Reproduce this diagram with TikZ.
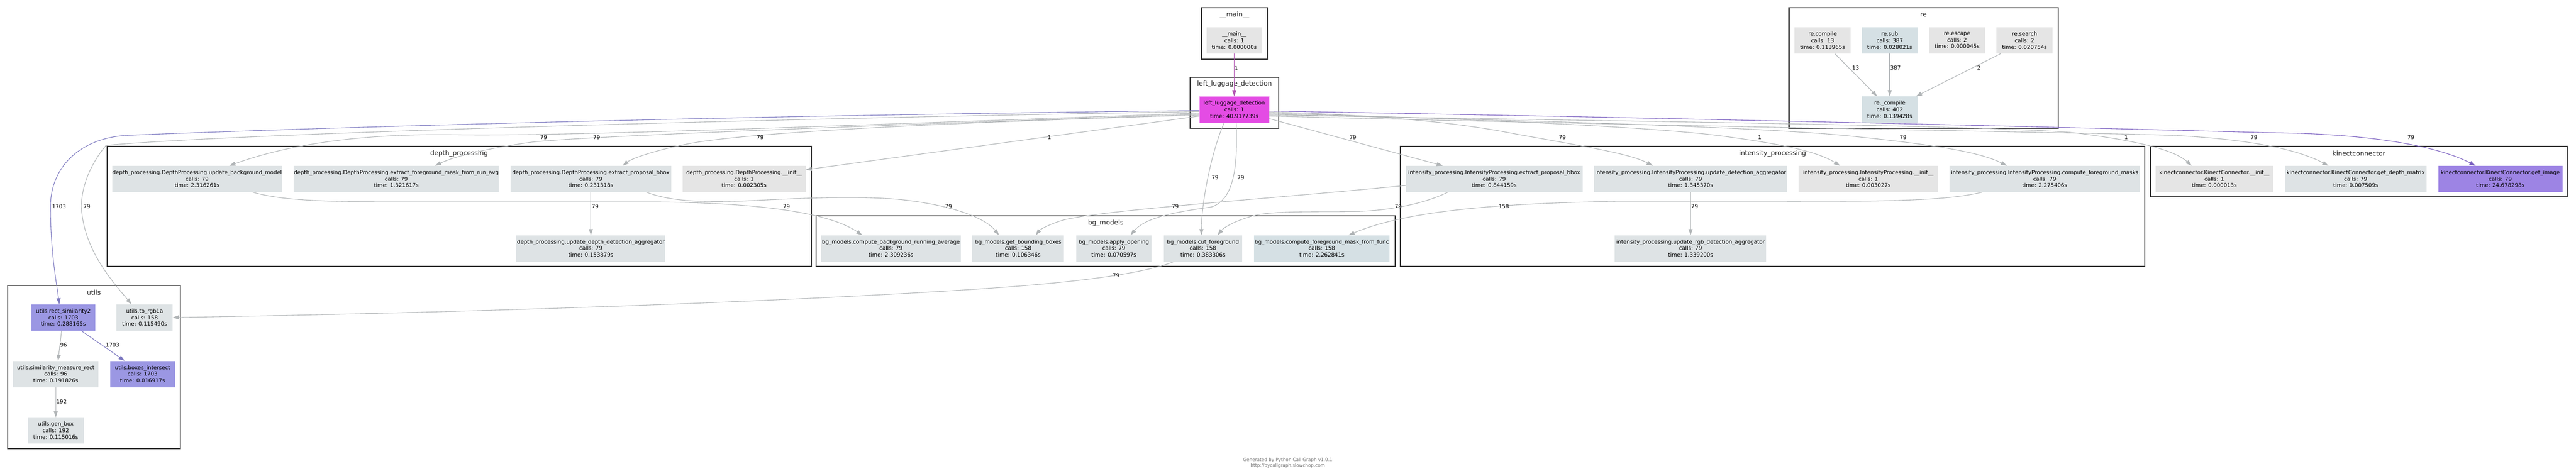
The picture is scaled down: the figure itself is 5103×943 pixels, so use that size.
\documentclass[tikz,border=0pt]{standalone}
\usepackage{fontspec}
\setmainfont{DejaVu Sans}
\usetikzlibrary{arrows.meta}
\definecolor{edgegray}{RGB}{176,180,182}
\definecolor{edgepurple}{RGB}{124,120,192}
\definecolor{edgeviolet}{RGB}{122,95,192}
\definecolor{edgemag}{RGB}{176,80,176}
\definecolor{fgrey}{RGB}{229,229,229}
\definecolor{fblue}{RGB}{222,227,229}
\definecolor{fbluer}{RGB}{213,224,228}
\definecolor{fpurple}{RGB}{155,151,227}
\definecolor{fviolet}{RGB}{157,132,228}
\definecolor{fmag}{RGB}{228,76,228}
\definecolor{clborder}{RGB}{51,51,51}
\definecolor{footgray}{RGB}{120,120,120}
\tikzset{
  fn/.style={rectangle, inner sep=0pt, minimum height=52pt, align=center,
    font=\fontsize{10.7}{13}\selectfont},
  cl/.style={draw=clborder, line width=2.2pt},
  cllab/.style={font=\fontsize{13}{15}\selectfont, text=black!85, inner sep=0pt},
  e/.style={draw=edgegray, line width=1.1pt, -{Triangle[length=12pt,width=8pt]}},
  ep/.style={e, draw=edgepurple},
  ev/.style={e, draw=edgeviolet},
  em/.style={e, draw=edgemag},
  lab/.style={font=\fontsize{10.7}{13}\selectfont, inner sep=0pt},
  foot/.style={font=\fontsize{9}{12}\selectfont, text=footgray, align=center, inner sep=0pt}
}
\begin{document}
\begin{tikzpicture}[x=1pt,y=-1pt]
\fill[white] (0,0) rectangle (5103,943);
\useasboundingbox (0,0) rectangle (5103,943);
% clusters
\draw[cl] (2380,15) rectangle (2511,117);
\node[cllab] (cmain) at (2445.5,30) {\_\_main\_\_};
\draw[cl] (2358,153) rectangle (2533,254);
\node[cllab] (clld) at (2445.5,167) {left\_luggage\_detection};
\draw[cl] (3544,15) rectangle (4077,254);
\node[cllab] (cre) at (3810.5,30) {re};
\draw[cl] (212,290) rectangle (1607,528);
\node[cllab] (cdepth) at (909.5,304) {depth\_processing};
\draw[cl] (1617,428) rectangle (2764,528);
\node[cllab] (cbg) at (2190.5,442) {bg\_models};
\draw[cl] (2774,290) rectangle (4249,528);
\node[cllab] (cint) at (3511.5,304) {intensity\_processing};
\draw[cl] (4260,290) rectangle (5086,390);
\node[cllab] (ckin) at (4673,304) {kinectconnector};
\draw[cl] (15,565) rectangle (357,889);
\node[cllab] (cutils) at (186,579) {utils};
% nodes
\node[fn, fill=fgrey, minimum width=110pt] (main) at (2445,80) {\_\_main\_\_\\calls: 1\\time: 0.000000s};
\node[fn, fill=fmag, draw=fmag!60!white, minimum width=138pt] (lld) at (2445,217) {left\_luggage\_detection\\calls: 1\\time: 40.917739s};
\node[fn, fill=fgrey, minimum width=111pt] (rc) at (3610.5,80) {re.compile\\calls: 13\\time: 0.113965s};
\node[fn, fill=fbluer, minimum width=111pt] (rs) at (3743.5,80) {re.sub\\calls: 387\\time: 0.028021s};
\node[fn, fill=fgrey, minimum width=110pt] (resc) at (3877,80) {re.escape\\calls: 2\\time: 0.000045s};
\node[fn, fill=fgrey, minimum width=111pt] (rsearch) at (4010.5,80) {re.search\\calls: 2\\time: 0.020754s};
\node[fn, fill=fbluer, minimum width=111pt] (rcomp) at (3743.5,217) {re.\_compile\\calls: 402\\time: 0.139428s};
% depth
\node[fn, fill=fblue, minimum width=337pt] (ubg) at (390.5,354.5) {depth\_processing.DepthProcessing.update\_background\_model\\calls: 79\\time: 2.316261s};
\node[fn, fill=fblue, minimum width=406pt] (efg) at (785,354.5) {depth\_processing.DepthProcessing.extract\_foreground\_mask\_from\_run\_avg\\calls: 79\\time: 1.321617s};
\node[fn, fill=fblue, minimum width=319pt] (dep) at (1170.5,354.5) {depth\_processing.DepthProcessing.extract\_proposal\_bbox\\calls: 79\\time: 0.231318s};
\node[fn, fill=fgrey, minimum width=244pt] (dinit) at (1474,354.5) {depth\_processing.DepthProcessing.\_\_init\_\_\\calls: 1\\time: 0.002305s};
\node[fn, fill=fblue, minimum width=295pt] (dagg) at (1170.5,492) {depth\_processing.update\_depth\_detection\_aggregator\\calls: 79\\time: 0.153879s};
% bg_models
\node[fn, fill=fblue, minimum width=276pt] (cbr) at (1765,492) {bg\_models.compute\_background\_running\_average\\calls: 79\\time: 2.309236s};
\node[fn, fill=fblue, minimum width=182pt] (gbb) at (2017,492) {bg\_models.get\_bounding\_boxes\\calls: 158\\time: 0.106346s};
\node[fn, fill=fblue, minimum width=149pt] (apo) at (2206.5,492) {bg\_models.apply\_opening\\calls: 79\\time: 0.070597s};
\node[fn, fill=fblue, minimum width=156pt] (cut) at (2383,492) {bg\_models.cut\_foreground\\calls: 158\\time: 0.383306s};
\node[fn, fill=fbluer, minimum width=269pt] (cff) at (2618.5,492) {bg\_models.compute\_foreground\_mask\_from\_func\\calls: 158\\time: 2.262841s};
% intensity
\node[fn, fill=fblue, minimum width=350pt] (iep) at (2960,354.5) {intensity\_processing.IntensityProcessing.extract\_proposal\_bbox\\calls: 79\\time: 0.844159s};
\node[fn, fill=fblue, minimum width=382pt] (iud) at (3349,354.5) {intensity\_processing.IntensityProcessing.update\_detection\_aggregator\\calls: 79\\time: 1.345370s};
\node[fn, fill=fgrey, minimum width=276pt] (iinit) at (3701,354.5) {intensity\_processing.IntensityProcessing.\_\_init\_\_\\calls: 1\\time: 0.003027s};
\node[fn, fill=fblue, minimum width=377pt] (icf) at (4050.5,354.5) {intensity\_processing.IntensityProcessing.compute\_foreground\_masks\\calls: 79\\time: 2.275406s};
\node[fn, fill=fblue, minimum width=300pt] (irgb) at (3349,492) {intensity\_processing.update\_rgb\_detection\_aggregator\\calls: 79\\time: 1.339200s};
% kinect
\node[fn, fill=fgrey, minimum width=233pt] (kinit) at (4386.5,354.5) {kinectconnector.KinectConnector.\_\_init\_\_\\calls: 1\\time: 0.000013s};
\node[fn, fill=fblue, minimum width=281pt] (kdm) at (4666.5,354.5) {kinectconnector.KinectConnector.get\_depth\_matrix\\calls: 79\\time: 0.007509s};
\node[fn, fill=fviolet, minimum width=246pt] (kimg) at (4953,354.5) {kinectconnector.KinectConnector.get\_image\\calls: 79\\time: 24.678298s};
% utils
\node[fn, fill=fpurple, minimum width=127pt] (rs2) at (125.5,629) {utils.rect\_similarity2\\calls: 1703\\time: 0.288165s};
\node[fn, fill=fblue, minimum width=111pt] (rgb) at (286.5,629) {utils.to\_rgb1a\\calls: 158\\time: 0.115490s};
\node[fn, fill=fblue, minimum width=169pt] (sim) at (110.5,741) {utils.similarity\_measure\_rect\\calls: 96\\time: 0.191826s};
\node[fn, fill=fpurple, minimum width=129pt] (box) at (282.5,741) {utils.boxes\_intersect\\calls: 1703\\time: 0.016917s};
\node[fn, fill=fblue, minimum width=111pt] (gen) at (110.5,853) {utils.gen\_box\\calls: 192\\time: 0.115016s};
% edges
\draw[em] (main.south) -- (lld.north);
\node[lab] (l0) at (2449,135) {1};
% re
\draw[e] ([xshift=24pt]rc.south) -- ([xshift=-25pt]rcomp.north);
\node[lab] (lr1) at (3676,134) {13};
\draw[e] (rs.south) -- (rcomp.north);
\node[lab] (lr2) at (3755,134) {387};
\draw[e] ([xshift=-47pt]rsearch.south) -- ([xshift=52pt]rcomp.north);
\node[lab] (lr3) at (3920,134) {2};
% lld to utils
\draw[ep] ([yshift=-2pt]lld.west) .. controls (1200,232) and (400,262) .. (255,268)
  .. controls (160,272) and (100,330) .. (100,409)
  .. controls (100,500) and (112,560) .. ([xshift=-8pt]rs2.north);
\node[lab] (l1703) at (117,409) {1703};
\draw[e] ([yshift=-4pt]lld.west) .. controls (1200,241) and (400,270) .. (210,288)
  .. controls (175,330) and (158,380) .. (162,420)
  .. controls (170,500) and (225,560) .. ([xshift=-26pt]rgb.north);
\node[lab] (lrgb) at (172,409) {79};
% lld to depth
\draw[e] ([yshift=-7pt]lld.west) .. controls (1500,255) and (1100,270) .. (900,267)
  .. controls (700,264) and (560,290) .. ([xshift=64pt]ubg.north);
\node[lab] (lubg) at (1077,272) {79};
\draw[e] ([yshift=-9pt]lld.west) .. controls (1700,250) and (1150,270) .. (1050,282)
  .. controls (960,295) and (900,310) .. ([xshift=77pt]efg.north);
\node[lab] (lefg) at (1182,272) {79};
\draw[e] ([yshift=-11pt]lld.west) .. controls (1800,245) and (1450,265) .. (1353,287)
  .. controls (1290,300) and (1250,315) .. ([xshift=63pt]dep.north);
\node[lab] (ldep) at (1506,272) {79};
\draw[e] ([yshift=-13pt]lld.west) -- ([yshift=-8pt]dinit.north east);
\node[lab] (ldinit) at (2079,272) {1};
% lld to bg
\draw[e] ([xshift=-20pt]lld.south) .. controls (2400,300) and (2380,400) .. ([xshift=-3pt]cut.north);
\node[lab] (lcut) at (2407,352) {79};
\draw[e] ([xshift=4pt]lld.south) .. controls (2452,330) and (2445,395) .. (2400,410)
  .. controls (2330,420) and (2270,430) .. ([xshift=33pt]apo.north);
\node[lab] (lapo) at (2458,352) {79};
% depth internal / to bg
\draw[e] ([xshift=110pt]ubg.south) .. controls (560,398) and (650,400) .. (800,400)
  -- (1300,400) .. controls (1500,402) and (1640,420) .. ([xshift=-57pt]cbr.north);
\node[lab] (lcbr) at (1558,409) {79};
\draw[e] ([xshift=110pt]dep.south) .. controls (1330,400) and (1400,402) .. (1500,397)
  .. controls (1600,392) and (1700,388) .. (1780,395)
  .. controls (1880,405) and (1950,430) .. ([xshift=-38pt]gbb.north);
\node[lab] (lgbb) at (1879,409) {79};
\draw[e] (dep.south) -- (dagg.north);
\node[lab] (ldagg) at (1179,409) {79};
% intensity to bg
\draw[e] ([yshift=-13pt]iep.west) .. controls (2500,395) and (2200,415) .. (2110,435)
  .. controls (2080,443) and (2060,455) .. ([xshift=35pt]gbb.north);
\node[lab] (lgbb2) at (2328,409) {79};
\draw[e] ([xshift=-92pt]iep.south) .. controls (2830,400) and (2760,418) .. (2680,419)
  .. controls (2600,420) and (2540,418) .. (2493,425)
  .. controls (2450,435) and (2425,450) .. ([xshift=29pt]cut.north);
\node[lab] (lcut2) at (2770,409) {79};
\draw[e] ([xshift=-124pt]icf.south) .. controls (3850,400) and (3700,399) .. (3500,399)
  -- (3200,399) .. controls (2950,403) and (2780,420) .. ([xshift=53pt]cff.north);
\node[lab] (lcff) at (2979,409) {158};
\draw[e] (iud.south) -- (irgb.north);
\node[lab] (lirgb) at (3357,409) {79};
% bg to utils
\draw[e] ([xshift=-57pt]cut.south) .. controls (2270,540) and (2150,560) .. (1900,575)
  .. controls (1500,600) and (900,620) .. (rgb.east);
\node[lab] (lrgb2) at (2211,546) {79};
% lld to intensity
\draw[e] ([yshift=-18pt]lld.east) -- ([xshift=-102pt]iep.north);
\node[lab] (liep) at (2680,272) {79};
\draw[e] ([yshift=-5pt]lld.east) .. controls (2750,228) and (2900,245) .. (3000,265)
  .. controls (3150,292) and (3230,305) .. ([xshift=-75pt]iud.north);
\node[lab] (liud) at (3095,272) {79};
\draw[e] ([yshift=-7pt]lld.east) .. controls (2900,235) and (3250,250) .. (3400,268)
  .. controls (3530,285) and (3600,300) .. ([xshift=-56pt]iinit.north);
\node[lab] (liinit) at (3486,272) {1};
\draw[e] ([yshift=-9pt]lld.east) .. controls (3000,238) and (3450,250) .. (3650,268)
  .. controls (3820,285) and (3920,300) .. ([xshift=-75pt]icf.north);
\node[lab] (licf) at (3770,272) {79};
% lld to kinect
\draw[e] ([yshift=-11pt]lld.east) .. controls (3200,240) and (3900,248) .. (4100,262)
  .. controls (4250,280) and (4310,300) .. ([xshift=-45pt]kinit.north);
\node[lab] (lkinit) at (4212,272) {1};
\draw[e] ([yshift=-13pt]lld.east) .. controls (3300,250) and (4100,262) .. (4300,268)
  .. controls (4450,275) and (4550,295) .. ([xshift=-54pt]kdm.north);
\node[lab] (lkdm) at (4465,272) {79};
\draw[ev] ([yshift=-3pt]lld.east) .. controls (3400,235) and (4200,255) .. (4500,263)
  .. controls (4700,265) and (4830,290) .. ([xshift=-49pt]kimg.north);
\node[lab] (lkimg) at (4776,272) {79};
% utils internal
\draw[e] ([xshift=-3.5pt]rs2.south) -- ([xshift=4.5pt]sim.north);
\node[lab] (l96) at (126,683) {96};
\draw[ep] ([xshift=35.5pt]rs2.south) -- ([xshift=-35.5pt]box.north);
\node[lab] (l1703b) at (223,683) {1703};
\draw[e] (sim.south) -- (gen.north);
\node[lab] (l192) at (122,796) {192};
% footer
\node[foot] (ft) at (2551,917) {Generated by Python Call Graph v1.0.1\\http://pycallgraph.slowchop.com};
\end{tikzpicture}
\end{document}
